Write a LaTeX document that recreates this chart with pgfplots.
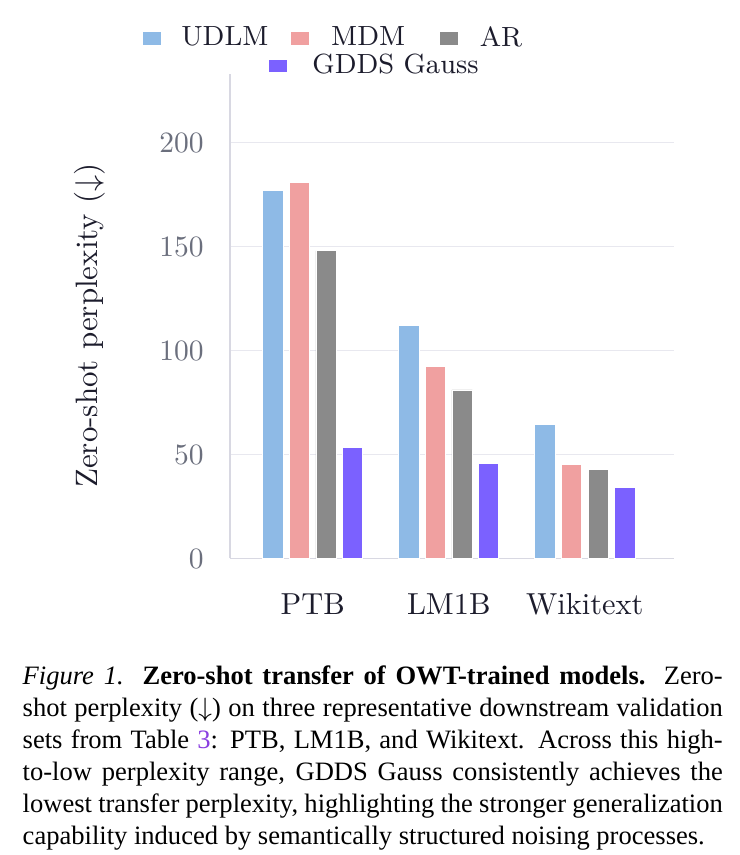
\documentclass[border=0pt]{standalone}
\usepackage{fontspec}
\usepackage{pgfplots}
\usepackage{pgfplotstable}
\pgfplotsset{compat=1.18}
\newfontfamily\capfont{Liberation Serif}

\definecolor{udlm}{HTML}{8EBAE6}
\definecolor{mdm}{HTML}{F0A0A0}
\definecolor{arc}{HTML}{8A8A8A}
\definecolor{gdds}{HTML}{7B61FF}
\definecolor{axisgray}{HTML}{D8D8E2}
\definecolor{gridgray}{HTML}{E8E8EF}
\definecolor{tickgray}{HTML}{6B6F7D}
\definecolor{ink}{HTML}{1C1C2C}
\definecolor{linkviolet}{HTML}{8A3FE0}

% zero-shot perplexity per validation set
\pgfplotstableread{
x udlm mdm ar gdds
0 177.0 181.0 148.0 53.5
1 112.2 92.3 81.1 45.8
2 64.4 45.2 42.8 34.3
}\ppl

\pgfplotsset{
  sq legend/.style={legend image code/.code={%
      \fill[##1] (0pt,-2.25pt) rectangle (6.44pt,2.25pt);}},
  legbase/.style={legend style={draw=none, fill=none, inner sep=0pt, column sep=0pt,
      font=\fontsize{9.4}{11}\selectfont, text=ink}},
}

\begin{document}
\begin{tikzpicture}
\useasboundingbox (-78pt,-100.5pt) rectangle (172.5pt,189.3pt);
\begin{axis}[
  at={(0,0)}, anchor=south west, scale only axis,
  width=150.5pt, height=164.2pt,
  xmin=-0.607, xmax=2.656, ymin=0, ymax=233,
  ybar, bar width=0.149,
  axis x line*=bottom, axis y line*=left,
  axis line style={draw=axisgray, line width=0.5pt, -},
  major tick length=0pt,
  xtick={0,1,2}, xticklabels={PTB,LM1B,Wikitext},
  ytick={0,50,100,150,200},
  ymajorgrids, grid style={draw=gridgray, line width=0.45pt},
  xticklabel style={font=\fontsize{10.3}{12}\selectfont, text=ink, anchor=base, yshift=-18.9pt, inner sep=0pt},
  yticklabel style={font=\fontsize{9.6}{11}\selectfont, text=tickgray, anchor=east, inner sep=0pt, xshift=-8.8pt},
  ylabel={Zero-shot perplexity ($\downarrow$)},
  ylabel style={font=\fontsize{10.5}{12}\selectfont, text=ink, at={(axis description cs:-0.316,0.481)}, anchor=center},
  legbase,
  legend style={at={(-0.2,1.0737)}, anchor=west},
  legend columns=3,
]
\addplot[fill=udlm, draw=white, line width=0.25pt, bar shift=-0.293, sq legend] table[x=x,y=udlm]{\ppl};
\addlegendentry{\hspace*{4.68pt}UDLM\hspace*{5.36pt}}
\addplot[fill=mdm, draw=white, line width=0.25pt, bar shift=-0.098, sq legend] table[x=x,y=mdm]{\ppl};
\addlegendentry{\hspace*{5.2pt}MDM\hspace*{9.4pt}}
\addplot[fill=arc, draw=white, line width=0.25pt, bar shift=0.098, sq legend] table[x=x,y=ar]{\ppl};
\addlegendentry{\hspace*{5.2pt}AR}
\addplot[fill=gdds, draw=white, line width=0.25pt, bar shift=0.293, forget plot] table[x=x,y=gdds]{\ppl};
\end{axis}
% second legend row
\begin{axis}[
  at={(0,0)}, anchor=south west, scale only axis,
  width=150.5pt, height=164.2pt, hide axis,
  xmin=0, xmax=1, ymin=0, ymax=1,
  legbase,
  legend style={at={(0.083,1.0164)}, anchor=west},
]
\addlegendimage{sq legend, fill=gdds, draw=white, line width=0.25pt}
\addlegendentry{\hspace*{6.5pt}GDDS Gauss}
\end{axis}
\node[anchor=base west, inner sep=0pt, text width=237.3pt, align=justify,
      font=\capfont\fontsize{9}{10.85}\selectfont, text=black] at (-70.5pt,-42.7pt)
{{\itshape Figure 1.}\hskip 4.5pt plus 2pt\textbf{Zero-shot transfer of OWT-trained models.} Zero-\linebreak
shot perplexity ($\downarrow$) on three representative downstream validation\linebreak
sets from Table {\color{linkviolet}3}: PTB, LM1B, and Wikitext. Across this high-\linebreak
to-low perplexity range, GDDS Gauss consistently achieves the\linebreak
lowest transfer perplexity, highlighting the stronger generalization\linebreak
capability induced by semantically structured noising processes.};
\end{tikzpicture}
\end{document}
